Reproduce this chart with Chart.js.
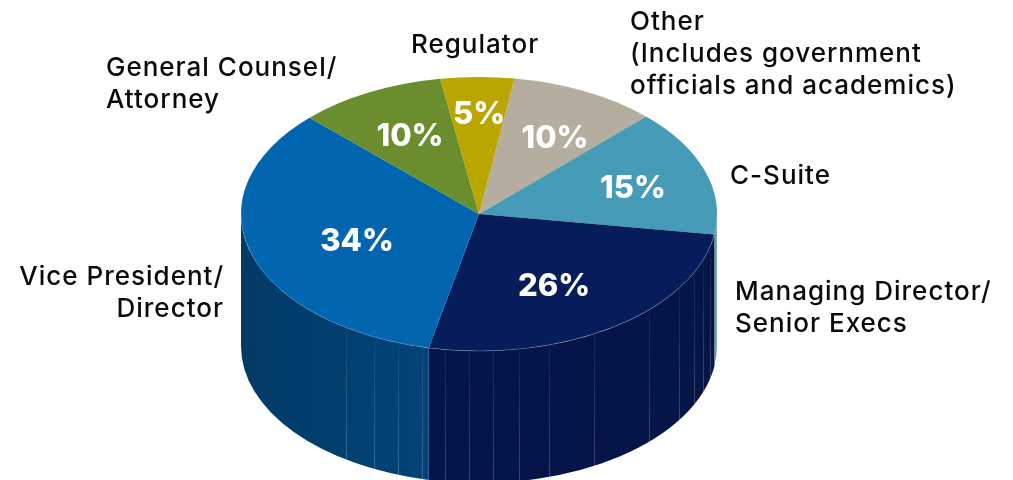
<!DOCTYPE html>
<html>
<head>
<meta charset="utf-8">
<title>Respondents by role</title>
<script src="https://cdn.jsdelivr.net/npm/chart.js@4/dist/chart.umd.min.js"></script>
<style>
  html, body { margin: 0; padding: 0; background: #fff; }
  canvas { display: block; }
</style>
</head>
<body>
<canvas id="roles" width="1013" height="480"></canvas>
<script>
// data, clockwise from the top of the pie
const categories = ['Other', 'C-Suite', 'Managing Director', 'Vice President', 'General Counsel', 'Regulator']
const values = [10, 15, 26, 34, 10, 5]
const labelLines = [
    ['Other', '(Includes government', 'officials and academics)'],
    ['C-Suite'],
    ['Managing Director/', 'Senior Execs'],
    ['Vice President/', 'Director'],
    ['General Counsel/', 'Attorney'],
    ['Regulator']
]

// colours
const topColors = ['#b5ad9d', '#469bb7', '#071d5b', '#0265b0', '#6a8d2e', '#b9a600']
const wallLeft = ['#8f8879', '#5f97aa', '#05144a', '#023a66', '#4f6a22', '#8a7c00']
const wallRight = ['#8f8879', '#7fa9b8', '#051546', '#014479', '#4f6a22', '#8a7c00']

// where the text goes
const labelPos = [[630, 22, 'left'], [730, 176, 'left'], [735, 292, 'left'], [224, 277, 'right'], [106, 68, 'left'], [411, 45, 'left']]
const percentPos = [[555, 139], [633, 189], [554, 287], [357, 242], [410, 137], [479, 115]]

// seams on the side of the pie, canvas degrees
const seamAngles = [124.1, 116.3, 109.8, 103.8, 98.2, 92.4, 86.6, 80.4, 73, 61, 44.3, 32.8, 25.3, 19.7, 13.9]

// pie is laid out as a circle, then squashed to this
const centerY = 214
const radiusY = 137
const depth = 132

function squash(ctx, arc) {
    const s = radiusY / arc.outerRadius
    ctx.translate(0, centerY)
    ctx.scale(1, s)
    ctx.translate(0, -arc.y)
    return s
}

const pie3d = {
    id: 'pie3d',
    beforeDatasetsDraw(chart) {
        const ctx = chart.ctx
        const arcs = chart.getDatasetMeta(0).data
        ctx.save()
        const s = squash(ctx, arcs[0])
        const d = depth / s

        arcs.forEach((arc, i) => {
            const a0 = Math.max(arc.startAngle, 0)
            const a1 = Math.min(arc.endAngle, Math.PI)
            if (a1 <= a0) return
            const r = arc.outerRadius
            const grad = ctx.createLinearGradient(arc.x + r * Math.cos(a1), 0, arc.x + r * Math.cos(a0), 0)
            grad.addColorStop(0, wallLeft[i])
            grad.addColorStop(1, wallRight[i])
            ctx.beginPath()
            ctx.arc(arc.x, arc.y + d, r, a0, a1)
            ctx.arc(arc.x, arc.y, r, a1, a0, true)
            ctx.closePath()
            ctx.fillStyle = grad
            ctx.fill()
        })

        const arc = arcs[0]
        seamAngles.forEach(deg => {
            const a = deg * Math.PI / 180
            const x = Math.round(arc.x + arc.outerRadius * Math.cos(a)) + 0.5
            const y = arc.y + arc.outerRadius * Math.sin(a)
            const grad = ctx.createLinearGradient(0, y, 0, y + d)
            grad.addColorStop(0, 'rgba(255,255,255,0.06)')
            grad.addColorStop(1, 'rgba(255,255,255,0.28)')
            ctx.beginPath()
            ctx.moveTo(x, y)
            ctx.lineTo(x, y + d)
            ctx.strokeStyle = grad
            ctx.lineWidth = 1
            ctx.stroke()
        })
    },
    afterDatasetsDraw(chart) {
        const ctx = chart.ctx
        const arc = chart.getDatasetMeta(0).data[0]
        // light rim along the front edge of the top
        ctx.beginPath()
        ctx.arc(arc.x, arc.y, arc.outerRadius, 0, Math.PI)
        ctx.strokeStyle = 'rgba(150,190,225,0.4)'
        ctx.lineWidth = 1
        ctx.stroke()
        ctx.restore()

        ctx.textBaseline = 'middle'
        ctx.fillStyle = '#0a0a0a'
        ctx.font = '500 26px Inter'
        ctx.letterSpacing = '1px'
        labelLines.forEach((lines, i) => {
            const [x, y, align] = labelPos[i]
            ctx.textAlign = align
            lines.forEach((line, n) => ctx.fillText(line, x, y + n * 32))
        })

        ctx.fillStyle = '#fff'
        ctx.font = '800 31px Inter'
        ctx.letterSpacing = '0px'
        ctx.textAlign = 'center'
        values.forEach((v, i) => ctx.fillText(v + '%', percentPos[i][0], percentPos[i][1]))
    }
}

new Chart(document.getElementById('roles'), {
    type: 'pie',
    data: {
        labels: categories,
        datasets: [{
            data: values,
            backgroundColor: topColors,
            borderWidth: 0
        }]
    },
    options: {
        responsive: false,
        animation: false,
        rotation: 8.6,
        layout: { padding: { left: 241, right: 296, top: 1, bottom: 1 } },
        plugins: {
            legend: { display: false },
            tooltip: { enabled: false }
        }
    },
    plugins: [pie3d]
})
</script>
</body>
</html>
